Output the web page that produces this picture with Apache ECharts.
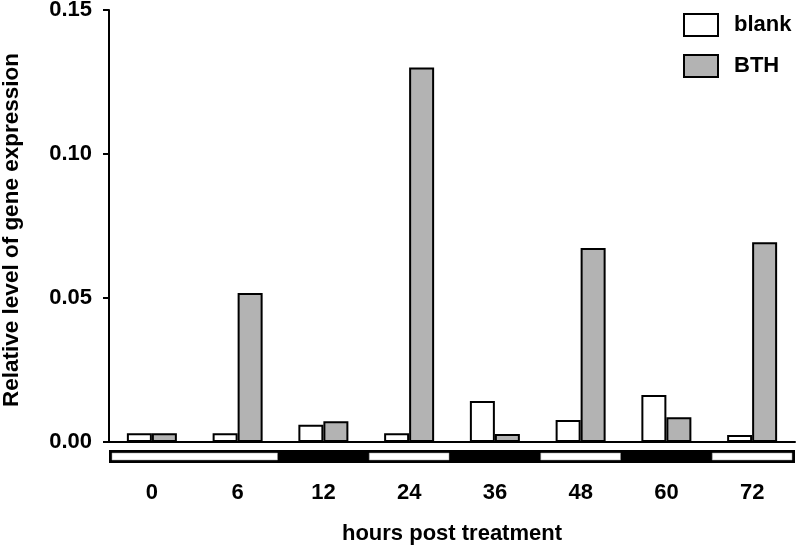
<!DOCTYPE html>
<html>
<head>
<meta charset="utf-8">
<script src="https://cdn.jsdelivr.net/npm/echarts@6/dist/echarts.min.js"></script>
<style>html,body{margin:0;padding:0;background:#fff}#c{width:797px;height:550px}</style>
</head>
<body>
<div id="c"></div>
<script>
var categories = ['0', '6', '12', '24', '36', '48', '60', '72'];
var blankValues = [0.003, 0.003, 0.006, 0.003, 0.0142, 0.0076, 0.0163, 0.0024];
var bthValues = [0.003, 0.0517, 0.0072, 0.130, 0.0028, 0.0674, 0.0086, 0.0694];
var yTicks = [0, 0.05, 0.10, 0.15];
// light periods (white segments of the light/dark bar), as [first category, last category]
var lightPeriods = [[0, 1], [3, 3], [5, 5], [7, 7]];

var chart = echarts.init(document.getElementById('c'), null, {renderer: 'canvas'});
var font = 'Liberation Sans, Arial, sans-serif';
chart.setOption({
  animation: false,
  backgroundColor: '#fff',
  grid: [
    {left: 109, right: 2, top: 10, bottom: 108, containLabel: false, outerBoundsMode: 'none'},
    {left: 109, right: 2, top: 450, height: 13, show: true, backgroundColor: '#000', borderWidth: 0,
     containLabel: false, outerBoundsMode: 'none'}
  ],
  legend: {
    orient: 'vertical', left: 683, top: 13, padding: 0, itemWidth: 34, itemHeight: 22, itemGap: 17,
    icon: 'rect',
    textStyle: {fontFamily: font, fontWeight: 'bold', fontSize: 22, lineHeight: 22, color: '#000', padding: [0, 0, 0, 11]},
    data: ['blank', 'BTH']
  },
  xAxis: [
    {
      type: 'category', data: categories, gridIndex: 0,
      axisLine: {lineStyle: {color: '#000', width: 2}},
      axisTick: {show: false},
      axisLabel: {margin: 40, fontFamily: font, fontWeight: 'bold', fontSize: 22, color: '#000'},
      name: 'hours post treatment', nameLocation: 'middle', nameGap: 81,
      nameTextStyle: {fontFamily: font, fontWeight: 'bold', fontSize: 22, color: '#000'}
    },
    {type: 'category', data: categories, gridIndex: 1, show: false}
  ],
  yAxis: [
    {
      type: 'value', min: 0, max: 0.15, interval: 0.05, gridIndex: 0,
      axisLine: {show: true, lineStyle: {color: '#000', width: 2}},
      axisTick: {show: true, length: 6, lineStyle: {color: '#000', width: 2}},
      splitLine: {show: false},
      axisLabel: {margin: 17, fontFamily: font, fontWeight: 'bold', fontSize: 22, color: '#000',
        formatter: function (v) { return v.toFixed(2); }},
      name: 'Relative level of gene expression', nameLocation: 'middle', nameGap: 86,
      nameTextStyle: {fontFamily: font, fontWeight: 'bold', fontSize: 22.5, color: '#000', padding: [0, 8, 0, 0]}
    },
    {type: 'value', min: 0, max: 1, gridIndex: 1, show: false}
  ],
  series: [
    {
      name: 'blank', type: 'bar', data: blankValues, barWidth: 25, barGap: '0%',
      itemStyle: {color: '#fff', borderColor: '#000', borderWidth: 2}
    },
    {
      name: 'BTH', type: 'bar', data: bthValues, barWidth: 25, barGap: '0%',
      itemStyle: {color: '#b3b3b3', borderColor: '#000', borderWidth: 2}
    },
    {
      type: 'custom', xAxisIndex: 1, yAxisIndex: 1, silent: true,
      data: lightPeriods,
      renderItem: function (params, api) {
        var s = api.value(0), e = api.value(1);
        var w = api.size([1, 0])[0];
        var p0 = api.coord([s, 1]);
        var p1 = api.coord([e, 0]);
        var inset = 3;
        var x0 = p0[0] - w / 2 + inset, x1 = p1[0] + w / 2 - inset;
        return {
          type: 'rect',
          shape: {x: x0, y: p0[1] + inset, width: x1 - x0, height: p1[1] - p0[1] - 2 * inset},
          style: {fill: '#fff', stroke: '#999', lineWidth: 0.5}
        };
      }
    }
  ]
});
</script>
</body>
</html>
